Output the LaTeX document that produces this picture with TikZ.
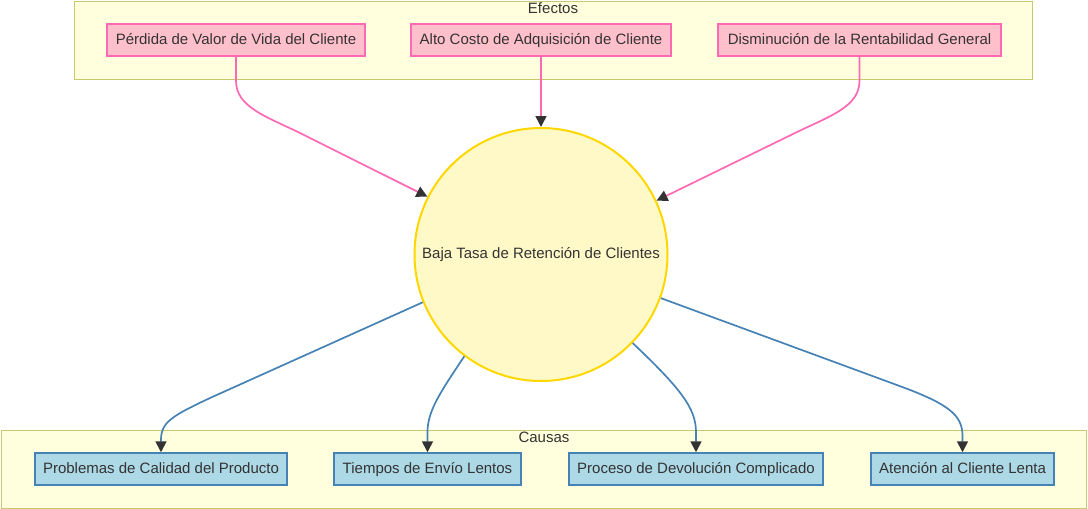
\documentclass[tikz,border=0pt]{standalone}
\usepackage{fontspec}
\setmainfont{Liberation Sans}
\usetikzlibrary{arrows.meta}
\definecolor{txt}{HTML}{333333}
\definecolor{clfill}{HTML}{FFFFDE}
\definecolor{cldraw}{HTML}{C8C86E}
\definecolor{effill}{HTML}{FFC0CB}
\definecolor{efdraw}{HTML}{FF69B4}
\definecolor{cafill}{HTML}{ADD8E6}
\definecolor{cadraw}{HTML}{4682B4}
\definecolor{cefill}{HTML}{FFF9C8}
\definecolor{cedraw}{HTML}{FFD700}
\begin{document}
\begin{tikzpicture}[x=1pt,y=-1pt,
  font=\fontsize{15}{17}\selectfont, text=txt,
  cluster/.style={draw=cldraw, fill=clfill, line width=1pt},
  effbox/.style={draw=efdraw, fill=effill, line width=1.5pt, minimum height=32pt, inner sep=0pt, text height=11pt, text depth=3pt, anchor=center},
  causebox/.style={draw=cadraw, fill=cafill, line width=1.5pt, minimum height=32pt, inner sep=0pt, text height=11pt, text depth=3pt, anchor=center},
  centre/.style={circle, draw=cedraw, fill=cefill, line width=2pt, minimum size=253pt, inner sep=0pt},
  tip/.style={-{Triangle[length=11pt,width=11pt,color=txt]}},
  effarrow/.style={tip, draw=efdraw, line width=1.7pt},
  causearrow/.style={tip, draw=cadraw, line width=1.7pt},
  lbl/.style={inner sep=0pt, anchor=center, text height=11pt, text depth=3pt}
]
\useasboundingbox (0,0) rectangle (1088,509);
% clusters
\draw[cluster] (74,1) rectangle (1032,79);
\node[lbl] (eft) at (553,9) {Efectos};
\draw[cluster] (1,430) rectangle (1086,508);
\node[lbl] (cat) at (544,438) {Causas};
% effect nodes
\node[effbox, minimum width=258pt] (e1) at (236,40) {Pérdida de Valor de Vida del Cliente};
\node[effbox, minimum width=260pt] (e2) at (541,40) {Alto Costo de Adquisición de Cliente};
\node[effbox, minimum width=283pt] (e3) at (859.5,40) {Disminución de la Rentabilidad General};
% centre
\node[centre] (c) at (541,254.5) {Baja Tasa de Retención de Clientes};
% cause nodes
\node[causebox, minimum width=252pt] (k1) at (161,469) {Problemas de Calidad del Producto};
\node[causebox, minimum width=187pt] (k2) at (427.5,469) {Tiempos de Envío Lentos};
\node[causebox, minimum width=254pt] (k3) at (696,469) {Proceso de Devolución Complicado};
\node[causebox, minimum width=183pt] (k4) at (962.5,469) {Atención al Cliente Lenta};
% effect arrows
\draw[effarrow] (e1.south) -- ++(0,24) .. controls +(0,26) and (265,116) .. (300,133) -- (c.153);
\draw[effarrow] (e2.south) -- (c.north);
\draw[effarrow] (e3.south) -- ++(0,24) .. controls +(0,26) and (830,116) .. (795,133) -- (c.25);
% cause arrows
\draw[causearrow] (c.202) -- (210,398) .. controls (172,416) and (161,422) .. (161,440) -- (k1.north);
\draw[causearrow] (c.233) .. controls (442,390) and (427.5,410) .. (427.5,432) -- (k2.north);
\draw[causearrow] (c.316) .. controls (680,388) and (696,408) .. (696,432) -- (k3.north);
\draw[causearrow] (c.340) -- (905,388) .. controls (950,405) and (962.5,416) .. (962.5,436) -- (k4.north);
\end{tikzpicture}
\end{document}
